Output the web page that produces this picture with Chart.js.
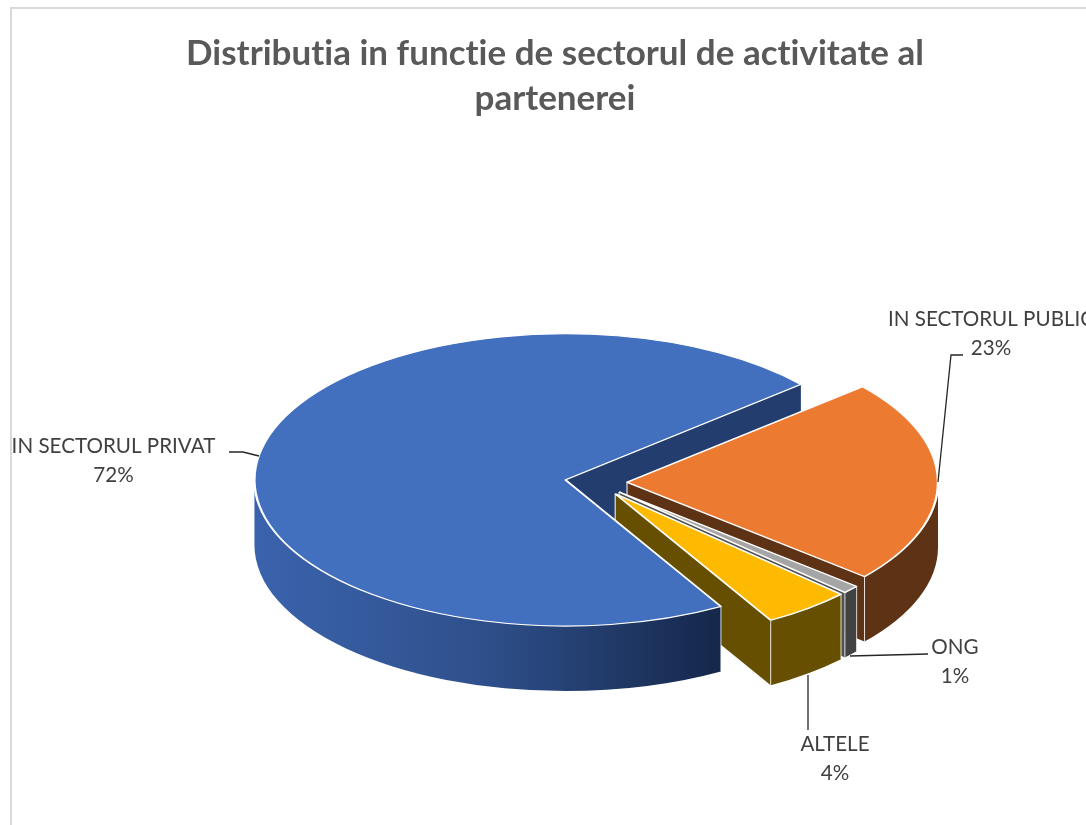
<!DOCTYPE html>
<html><head><meta charset="utf-8">
<style>html,body{margin:0;padding:0;background:#fff;overflow:hidden}canvas{display:block}</style>
<script src="https://cdn.jsdelivr.net/npm/chart.js@4"></script>
</head><body>
<canvas id="c" width="1086" height="825"></canvas>
<script>
const titleLines = ['Distributia in functie de sectorul de activitate al', 'partenerei'];
const categories = ['IN SECTORUL PRIVAT', 'IN SECTORUL PUBLIC', 'ONG', 'ALTELE'];
const values = [72, 22.5, 0.9, 4.6];
const percentLabels = ['72%', '23%', '1%', '4%'];
const topColors = ['#4270be', '#ec7a30', '#a5a5a5', '#fdba00'];
const cutColors = ['#233e6e', '#5e3214', '#525252', '#664f00'];
const rimColors = ['#203864', '#5e3214', '#424242', '#664f00'];
const blueRimStops = ['#3b63ad', '#2e4f8a', '#15274a'];

const pie3d = {centerX: 596, centerY: 482.3, squash: 0.47, depth: 65, explode: 31, radius: 311, rotation: 150};
const labelLayout = [
  {x: 113.5, y: 446, leader: [[229,452],[243,452],[259,456]]},
  {x: 991, y: 319, leader: [[963,355],[951,355],[938,482]]},
  {x: 955, y: 647, leader: [[928,654],[850,656]]},
  {x: 835, y: 744, leader: [[808,730],[808,675]]}
];

function toScreen(chart, arc) {
  const cx = (chart.chartArea.left + chart.chartArea.right) / 2;
  const cy = (chart.chartArea.top + chart.chartArea.bottom) / 2;
  return {x: pie3d.centerX + arc.x - cx, y: pie3d.centerY + (arc.y - cy) * pie3d.squash};
}
function cutWall(ctx, c, r, a, color) {
  const ex = c.x + r * Math.cos(a), ey = c.y + r * pie3d.squash * Math.sin(a), d = pie3d.depth;
  ctx.beginPath();
  ctx.moveTo(c.x, c.y); ctx.lineTo(ex, ey); ctx.lineTo(ex, ey + d); ctx.lineTo(c.x, c.y + d); ctx.closePath();
  ctx.fillStyle = color; ctx.fill();
  ctx.beginPath(); ctx.moveTo(c.x, c.y); ctx.lineTo(c.x, c.y + d);
  ctx.strokeStyle = 'rgba(255,255,255,0.85)'; ctx.lineWidth = 1.2; ctx.stroke();
}
function rimWall(ctx, c, r, a1, a2, fill) {
  const ry = r * pie3d.squash, d = pie3d.depth;
  for (let n = 0; n < 2; n++) {
    const s = Math.max(a1, n * 2 * Math.PI), e = Math.min(a2, n * 2 * Math.PI + Math.PI);
    if (e <= s) continue;
    ctx.beginPath();
    ctx.ellipse(c.x, c.y, r, ry, 0, s, e);
    ctx.ellipse(c.x, c.y + d, r, ry, 0, e, s, true);
    ctx.closePath();
    ctx.fillStyle = fill; ctx.fill();
    ctx.strokeStyle = 'rgba(255,255,255,0.8)'; ctx.lineWidth = 1;
    [s, e].forEach(t => {
      const x = c.x + r * Math.cos(t), y = c.y + ry * Math.sin(t);
      if (Math.abs(Math.sin(t)) < 0.02) return;
      ctx.beginPath(); ctx.moveTo(x, y); ctx.lineTo(x, y + d); ctx.stroke();
    });
  }
}
function drawWalls(ctx, chart, arc, i) {
  const c = toScreen(chart, arc), r = arc.outerRadius;
  if (Math.cos(arc.endAngle) > 0) cutWall(ctx, c, r, arc.endAngle, cutColors[i]);
  if (-Math.cos(arc.startAngle) > 0) cutWall(ctx, c, r, arc.startAngle, cutColors[i]);
  if (i === 0) return;
  rimWall(ctx, c, r, arc.startAngle, arc.endAngle, rimColors[i]);
}
const pie3dPlugin = {
  id: 'pie3d',
  afterDatasetsUpdate(chart) {
    chart.getDatasetMeta(0).data.forEach(arc => {
      const mid = (arc.startAngle + arc.endAngle) / 2;
      arc.x += Math.cos(mid) * pie3d.explode;
      arc.y += Math.sin(mid) * pie3d.explode;
    });
  },
  beforeDraw(chart) {
    const ctx = chart.ctx;
    ctx.letterSpacing = '0.01px'; // keeps "ti" as two letters
    ctx.save();
    ctx.strokeStyle = '#d9d9d9'; ctx.lineWidth = 2;
    ctx.strokeRect(11, 8, 1200, 1000);
    ctx.restore();
  },
  beforeDatasetsDraw(chart) {
    const ctx = chart.ctx;
    const arcs = chart.getDatasetMeta(0).data;
    ctx.save();
    arcs.forEach((arc, i) => drawWalls(ctx, chart, arc, i));
    // The large slice's outer wall sits in front of the exploded slices' walls.
    const big = arcs[0], c = toScreen(chart, big), r = big.outerRadius;
    const fill = ctx.createLinearGradient(c.x - r, 0, c.x + r * Math.cos(big.startAngle), 0);
    blueRimStops.forEach((col, k) => fill.addColorStop(k / (blueRimStops.length - 1), col));
    rimWall(ctx, c, r, big.startAngle, big.endAngle, fill);
    ctx.restore();
    const cx = (chart.chartArea.left + chart.chartArea.right) / 2;
    const cy = (chart.chartArea.top + chart.chartArea.bottom) / 2;
    ctx.save();
    ctx.translate(pie3d.centerX, pie3d.centerY);
    ctx.scale(1, pie3d.squash);
    ctx.translate(-cx, -cy);
  },
  afterDatasetsDraw(chart) {
    chart.ctx.restore();
  },
  afterDraw(chart) {
    const ctx = chart.ctx;
    ctx.save();
    labelLayout.forEach((l, i) => {
      ctx.strokeStyle = '#262626'; ctx.lineWidth = 1.3;
      ctx.beginPath();
      l.leader.forEach((p, k) => k ? ctx.lineTo(p[0], p[1]) : ctx.moveTo(p[0], p[1]));
      ctx.stroke();
      ctx.fillStyle = '#404040';
      ctx.font = '20.6px Lato';
      ctx.textAlign = 'center'; ctx.textBaseline = 'middle';
      ctx.fillText(categories[i], l.x, l.y);
      ctx.fillText(percentLabels[i], l.x, l.y + 29.5);
    });
    ctx.restore();
  }
};
new Chart(document.getElementById('c'), {
  type: 'pie',
  data: {
    labels: categories,
    datasets: [{
      data: values,
      backgroundColor: topColors,
      borderColor: '#ffffff',
      borderWidth: 2.4,
      clip: false
    }]
  },
  options: {
    responsive: false,
    animation: false,
    events: [],
    radius: pie3d.radius,
    rotation: pie3d.rotation,
    layout: {padding: {left: 24, top: 25}},
    plugins: {
      legend: {display: false},
      tooltip: {enabled: false},
      title: {
        display: true,
        text: titleLines,
        color: '#595959',
        font: {family: 'Lato', size: 35, weight: 'bold', lineHeight: 1.286},
        padding: {top: 6, bottom: 10}
      }
    }
  },
  plugins: [pie3dPlugin]
});
</script>
</body></html>
